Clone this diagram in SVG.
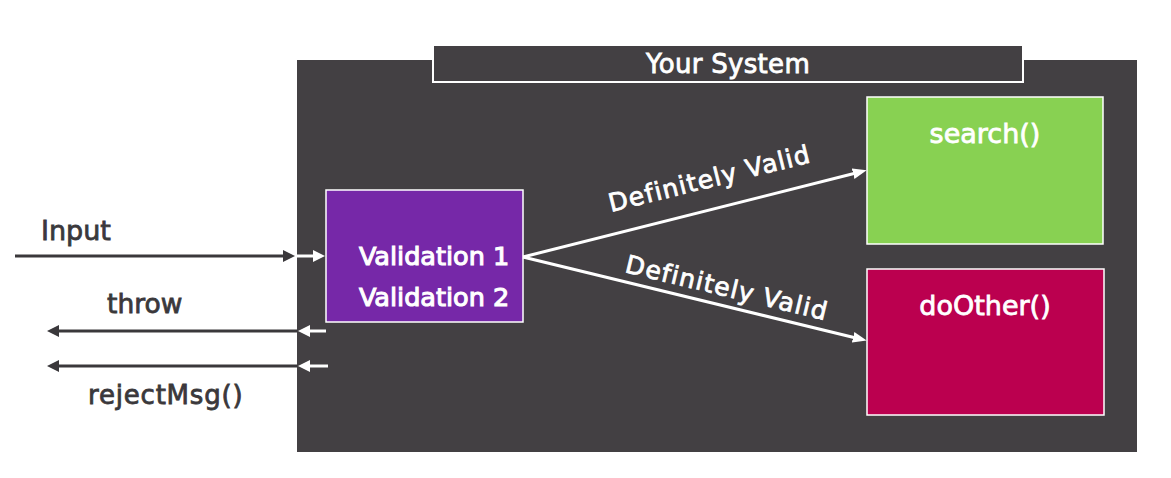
<svg xmlns="http://www.w3.org/2000/svg" width="1171" height="478" viewBox="0 0 1171 478">
  <style>
    .t { font-family: "DejaVu Sans", "Liberation Sans", sans-serif; font-size: 26px; }
    .w { fill: #ffffff; stroke: #ffffff; stroke-width: 0.8; }
    .d { fill: #3a383b; stroke: #3a383b; stroke-width: 0.8; }
    .box { stroke: #ffffff; stroke-width: 1.5; }
    .dk { stroke: #3a383b; stroke-width: 3; fill: none; }
    .wh { stroke: #ffffff; stroke-width: 3; fill: none; }
  </style>
  <defs>
    <marker id="ad" markerUnits="userSpaceOnUse" markerWidth="13" markerHeight="13" refX="3" refY="6" orient="auto">
      <path d="M0,0 L12,6 L0,12 z" fill="#3a383b"/>
    </marker>
    <marker id="aw" markerUnits="userSpaceOnUse" markerWidth="13" markerHeight="13" refX="3" refY="6" orient="auto">
      <path d="M0,0 L12,6 L0,12 z" fill="#ffffff"/>
    </marker>
    <marker id="awl" markerUnits="userSpaceOnUse" markerWidth="15" markerHeight="13" refX="3" refY="6" orient="auto">
      <path d="M0,0.5 L14,6 L0,11.5 z" fill="#ffffff"/>
    </marker>
  </defs>

  <g id="system">
    <rect x="297" y="60" width="840" height="392" fill="#434043"/>
    <rect x="433" y="45" width="590" height="37" fill="#434043" stroke="#ffffff" stroke-width="2"/>
    <text class="t w" x="728" y="73" text-anchor="middle" style="letter-spacing:0.3px">Your System</text>
  </g>

  <g id="validation">
    <rect class="box" x="326" y="190" width="197" height="132" fill="#7628a8"/>
    <text class="t w" x="434" y="265" text-anchor="middle" style="font-size:25.5px;stroke-width:1.1px">Validation 1</text>
    <text class="t w" x="434" y="306" text-anchor="middle" style="font-size:25.5px;stroke-width:1.1px">Validation 2</text>
  </g>

  <g id="search">
    <rect class="box" x="867" y="97" width="236" height="147" fill="#88d152"/>
    <text class="t w" x="985" y="143" text-anchor="middle" style="font-size:27px">search()</text>
  </g>

  <g id="doOther">
    <rect class="box" x="867" y="269" width="237" height="146" fill="#bb004f"/>
    <text class="t w" x="985" y="315" text-anchor="middle" style="font-size:27px">doOther()</text>
  </g>

  <g id="connectors">
    <line class="dk" x1="15" y1="256" x2="286" y2="256" marker-end="url(#ad)"/>
    <line class="wh" x1="297" y1="256" x2="316" y2="256" marker-end="url(#aw)"/>
    <line class="dk" x1="297" y1="331" x2="56" y2="331" marker-end="url(#ad)"/>
    <line class="wh" x1="326" y1="331" x2="307" y2="331" marker-end="url(#aw)"/>
    <line class="dk" x1="297" y1="366" x2="56" y2="366" marker-end="url(#ad)"/>
    <line class="wh" x1="328" y1="366" x2="307" y2="366" marker-end="url(#aw)"/>
    <line class="wh" x1="523" y1="257" x2="856" y2="173" marker-end="url(#awl)"/>
    <line class="wh" x1="523" y1="257" x2="856" y2="338" marker-end="url(#awl)"/>
  </g>

  <g id="labels">
    <text class="t d" x="41" y="240" style="font-size:27px">Input</text>
    <text class="t d" x="107" y="313" style="font-size:26.5px">throw</text>
    <text class="t d" x="88" y="404" style="letter-spacing:0.8px">rejectMsg()</text>
    <text class="t w" x="0" y="0" transform="translate(611,212) rotate(-14)" style="font-size:25px;letter-spacing:1.2px">Definitely Valid</text>
    <text class="t w" x="0" y="0" transform="translate(624,272) rotate(13.5)" style="font-size:25px;letter-spacing:1.2px">Definitely Valid</text>
  </g>
</svg>
